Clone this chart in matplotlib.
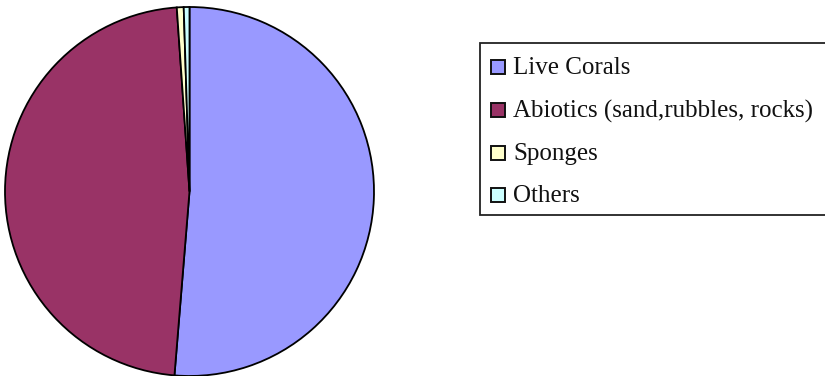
import matplotlib
matplotlib.use("Agg")
import matplotlib.pyplot as plt
from matplotlib.patches import Rectangle

categories = ["Live Corals", "Abiotics (sand,rubbles, rocks)", "Sponges", "Others"]
values = [51.3, 47.6, 0.6, 0.5]
colors = ["#9999FF", "#993366", "#FFFFCC", "#CCFFFF"]

W, H = 825, 376
fig = plt.figure(figsize=(W / 100, H / 100), dpi=100)
plt.rcParams['font.family'] = ['Liberation Serif', 'DejaVu Serif']

ax = fig.add_axes([5 / W, 0 / H, 369 / W, 369 / H])
wedges, _ = ax.pie(values, colors=colors, startangle=90, counterclock=False,
                   wedgeprops=dict(edgecolor="black", linewidth=1.3))
for w in wedges:
    w.set_clip_on(False)
ax.set_xlim(-1, 1)
ax.set_ylim(-1, 1)
ax.set_aspect("equal")
ax.axis("off")

# legend box
lx0, ly0, lx1, ly1 = 480, 43, 830, 215
fig.patches.append(Rectangle((lx0 / W, 1 - ly1 / H), (lx1 - lx0) / W, (ly1 - ly0) / H,
                             transform=fig.transFigure, facecolor="white",
                             edgecolor="#222222", linewidth=1.3))
row_y = [67, 110, 153, 195]
for lab, col, y in zip(categories, colors, row_y):
    fig.patches.append(Rectangle((491 / W, 1 - (y + 7) / H), 14 / W, 14 / H,
                                 transform=fig.transFigure, facecolor=col,
                                 edgecolor="#111111", linewidth=1.4))
    fig.text(513 / W, 1 - (y + 1) / H, lab, fontsize=18, va="center", ha="left",
             color="#111111")

fig.savefig("out.png", dpi=100)
